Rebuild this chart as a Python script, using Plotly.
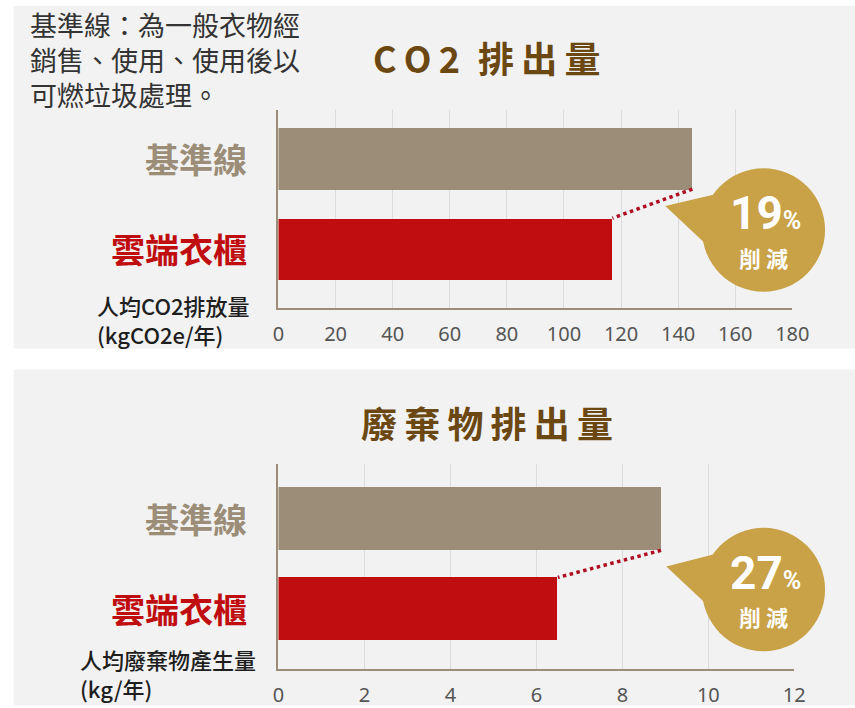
import plotly.graph_objects as go

# ---------------- data ----------------
categories = ["雲端衣櫃", "基準線"]          # bottom -> top
co2_values = [117, 145]                      # kgCO2e / 年
waste_values = [6.5, 8.9]                    # kg / 年
co2_ticks = [0, 20, 40, 60, 80, 100, 120, 140, 160, 180]
waste_ticks = [0, 2, 4, 6, 8, 10, 12]
co2_reduction = "19"
waste_reduction = "27"
titles = ["C\u2009O\u20092\u2002排\u2009出\u2009量", "廢\u2009棄\u2009物\u2009排\u2009出\u2009量"]
axis_titles = ["人均CO2排放量<br>(kgCO2e/年)", "人均廢棄物產生量<br>(kg/年)"]
note_text = "基準線：為一般衣物經<br>銷售、使用、使用後以<br>可燃垃圾處理。"

# ---------------- style ----------------
W, H = 855, 708
BG = "#f2f2f2"
GRAY_BAR = "#9b8d77"
RED_BAR = "#c00d10"
GOLD = "#c9a146"
TITLE_C = "#6b4812"
AXIS_C = "#9b8d77"
GRID_C = "#dcdcdc"
TICK_C = "#555555"
CJK = "Noto Sans CJK TC"

# horizontal compensation for the rendered page width
SX, OX = 0.981, 2.3


def px(x):
    return ((x - OX) / SX) / W


def py(y):
    return 1 - y / H


bar_colors = [RED_BAR, GRAY_BAR]
label_colors = [RED_BAR, GRAY_BAR]

fig = go.Figure()

panels = [
    dict(values=co2_values, ticks=co2_ticks, rng=[0, 180], xa="x", ya="y",
         xdom=[277, 795], ydom=[110, 309], yr=[-0.648, 1.538], width=0.68,
         bg=[6, 350], title_y=57, axt_x=95, axt_y=321, bub=(766, 231), tip=(667, 207),
         red=co2_reduction, title=titles[0], axt=axis_titles[0]),
    dict(values=waste_values, ticks=waste_ticks, rng=[0, 12], xa="x2", ya="y2",
         xdom=[277, 797], ydom=[466, 672], yr=[-0.668, 1.608], width=0.70,
         bg=[371, 708], title_y=424, axt_x=78, axt_y=676, bub=(766, 592), tip=(668, 569),
         red=waste_reduction, title=titles[1], axt=axis_titles[1]),
]

shapes = []
annotations = []
layout_axes = {}

for i, p in enumerate(panels):
    pos = list(range(len(categories)))
    fig.add_trace(go.Bar(
        x=p["values"], y=pos, orientation="h", width=p["width"],
        marker=dict(color=bar_colors, line=dict(width=0)),
        xaxis=p["xa"], yaxis=p["ya"], showlegend=False, hoverinfo="skip"))
    # dotted connector between bar ends
    half = p["width"] / 2
    fig.add_trace(go.Scatter(
        x=[p["values"][1], p["values"][0]], y=[pos[1] - half, pos[0] + half],
        mode="lines", line=dict(color="#b00d22", width=3.5, dash="dot"),
        xaxis=p["xa"], yaxis=p["ya"], showlegend=False, hoverinfo="skip"))

    suffix = "" if i == 0 else "2"
    layout_axes["xaxis" + suffix] = dict(
        domain=[px(p["xdom"][0]), px(p["xdom"][1])], range=p["rng"],
        tickvals=p["ticks"], ticktext=[str(t) for t in p["ticks"]],
        showgrid=True, gridcolor=GRID_C, gridwidth=1, zeroline=False,
        showline=True, linecolor=AXIS_C, linewidth=2,
        ticks="", ticklabelstandoff=7,
        tickfont=dict(family="Noto Sans", size=20, color=TICK_C),
        anchor=p["ya"], fixedrange=True)
    layout_axes["yaxis" + suffix] = dict(
        domain=[py(p["ydom"][1]), py(p["ydom"][0])], range=p["yr"],
        showticklabels=False, showgrid=False, zeroline=False,
        showline=True, linecolor=AXIS_C, linewidth=2, ticks="",
        anchor=p["xa"], fixedrange=True)

    # panel background
    shapes.append(dict(type="rect", xref="paper", yref="paper", layer="below",
                       x0=px(10), x1=1.1, y0=py(p["bg"][1]), y1=py(p["bg"][0]),
                       fillcolor=BG, line=dict(width=0)))

    # bubble
    cx, cy = p["bub"]
    r = 62
    shapes.append(dict(type="circle", xref="paper", yref="paper", layer="above",
                       x0=px(cx - r), x1=px(cx + r), y0=py(cy + r), y1=py(cy - r),
                       fillcolor=GOLD, line=dict(width=0)))
    tx, ty = p["tip"]
    path = "M {:.5f},{:.5f} L {:.5f},{:.5f} L {:.5f},{:.5f} Z".format(
        px(tx), py(ty), px(cx - 40), py(cy - 38), px(cx - 54), py(cy + 18))
    shapes.append(dict(type="path", xref="paper", yref="paper", layer="above",
                       path=path, fillcolor=GOLD, line=dict(width=0)))
    annotations.append(dict(
        xref="paper", yref="paper", x=px(cx + 2), y=py(cy - 17),
        text="<b>" + p["red"] + "</b><span style='font-size:25px'><b>%</b></span>",
        showarrow=False, xanchor="center", yanchor="middle",
        font=dict(family="Roboto", size=46, color="white")))
    annotations.append(dict(
        xref="paper", yref="paper", x=px(cx), y=py(cy + 27),
        text="<b>削 減</b>", showarrow=False, xanchor="center", yanchor="middle",
        font=dict(family=CJK, size=22, color="white")))

    # title
    annotations.append(dict(
        xref="paper", yref="paper", x=px(487), y=py(p["title_y"]),
        text="<b>" + p["title"] + "</b>", showarrow=False,
        xanchor="center", yanchor="middle",
        font=dict(family=CJK, size=36, color=TITLE_C)))

    # category labels
    for j, cat in enumerate(categories):
        annotations.append(dict(
            xref="paper", yref=p["ya"], x=px(247), y=pos[j],
            text="<b>" + cat + "</b>", showarrow=False,
            xanchor="right", yanchor="middle",
            font=dict(family=CJK, size=34, color=label_colors[j])))

    # axis title
    annotations.append(dict(
        xref="paper", yref="paper", x=px(p["axt_x"] - 3), y=py(p["axt_y"]),
        text=p["axt"], showarrow=False, xanchor="left", yanchor="middle",
        align="left", font=dict(family=CJK, size=22, color="#1e1e1e", weight=500)))

# note text
annotations.append(dict(
    xref="paper", yref="paper", x=px(24), y=py(3), text=note_text,
    showarrow=False, xanchor="left", yanchor="top", align="left",
    font=dict(family=CJK, size=27, color="#333333")))

fig.update_layout(
    width=W, height=H, margin=dict(l=0, r=0, t=0, b=0),
    paper_bgcolor="white", plot_bgcolor="rgba(0,0,0,0)",
    shapes=shapes, annotations=annotations, bargap=0,
    **layout_axes)

fig.write_html("out.html", config={"displayModeBar": False})
